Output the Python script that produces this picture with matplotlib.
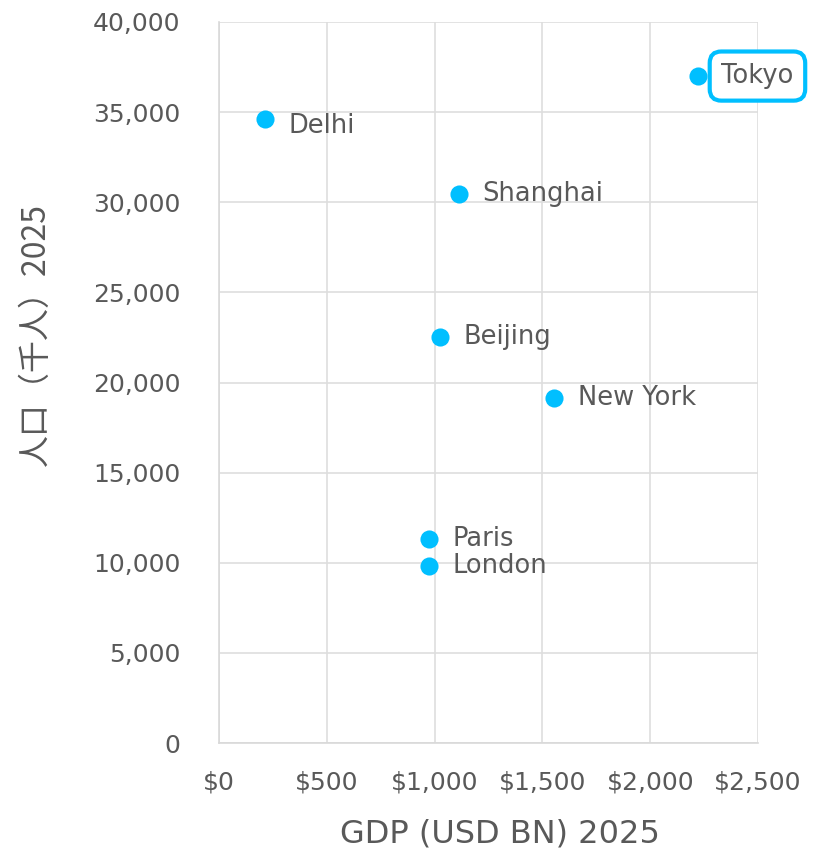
import matplotlib.pyplot as plt
from matplotlib.ticker import FuncFormatter

cities = ["Tokyo", "Delhi", "Shanghai", "Beijing", "New York", "Paris", "London"]
gdp = [2220, 213, 1113, 1025, 1554, 974, 974]
population = [37000, 34600, 30450, 22520, 19140, 11320, 9820]

blue = "#00BFFF"
grey = "#595959"
plt.rcParams["font.family"] = ["DejaVu Sans", "Noto Sans CJK JP"]

fig = plt.figure(figsize=(8.21, 8.59), dpi=100)
ax = fig.add_axes([0.2668, 0.135, 0.6565, 0.8394])

ax.scatter(gdp, population, s=170, color=blue, zorder=3, linewidths=0)

for name, x, y in zip(cities, gdp, population):
    dy = -5 if name == "Delhi" else 0
    t = ax.annotate(name, (x, y), xytext=(17, dy), textcoords="offset points",
                    va="center", ha="left", fontsize=18.5, color=grey)
    if name == "Tokyo":
        t.set_bbox(dict(boxstyle="round,pad=0.45,rounding_size=0.45", fc="white",
                        ec=blue, lw=3))

ax.set_xlim(0, 2500)
ax.set_ylim(0, 40000)
ax.set_xticks(range(0, 2501, 500))
ax.set_yticks(range(0, 40001, 5000))
ax.xaxis.set_major_formatter(FuncFormatter(lambda v, p: "${:,.0f}".format(v)))
ax.yaxis.set_major_formatter(FuncFormatter(lambda v, p: "{:,.0f}".format(v)))
ax.tick_params(length=0, labelsize=18, labelcolor=grey)
ax.tick_params(axis="y", pad=28)
ax.tick_params(axis="x", pad=20)
ax.grid(True, color="#DEDEDE", lw=1.2)
ax.set_axisbelow(True)
for s in ["top", "right"]:
    ax.spines[s].set_visible(False)
for s in ["left", "bottom"]:
    ax.spines[s].set_color("#D9D9D9")
    ax.spines[s].set_linewidth(1.2)

ax.set_xlabel("GDP (USD BN) 2025", fontsize=23, color=grey)
ax.set_ylabel("人口（千人）2025", fontsize=23, color=grey,
              family=["Noto Sans CJK JP", "DejaVu Sans"])
ax.xaxis.set_label_coords(0.521, -0.105)
ax.yaxis.set_label_coords(-0.31, 0.566)

fig.savefig("out.png", dpi=100)
